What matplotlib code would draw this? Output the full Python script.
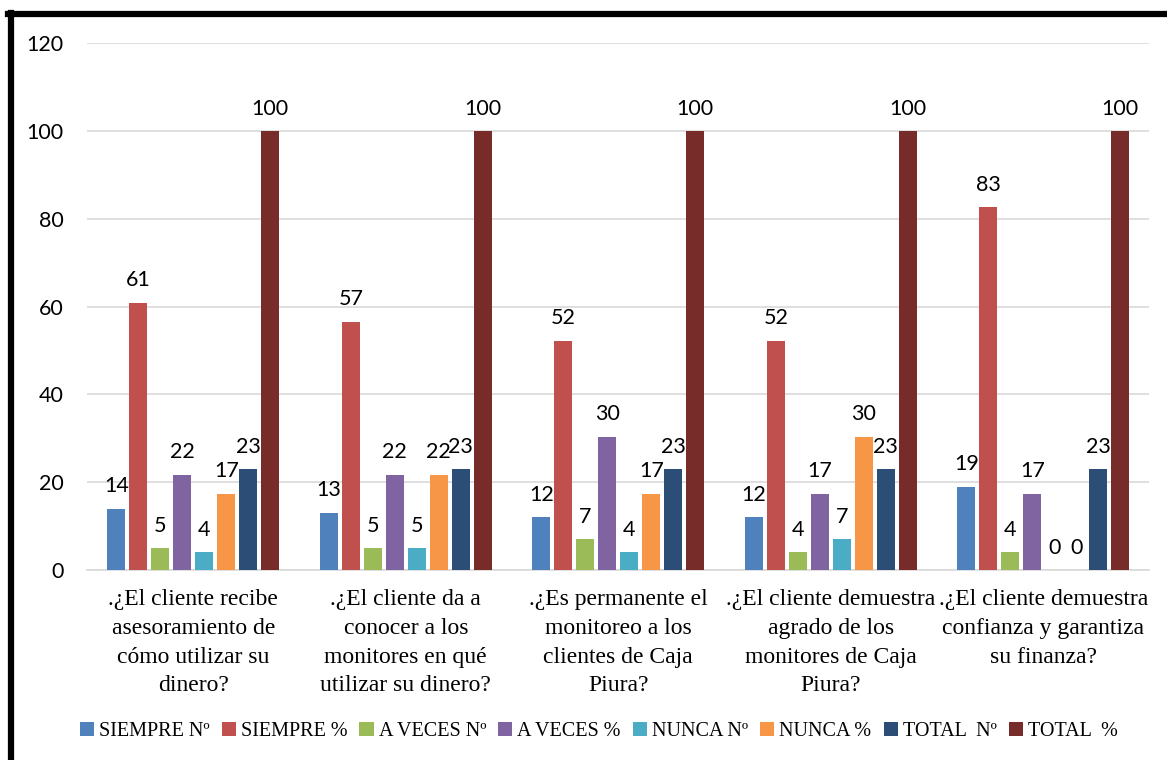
import numpy as np
import matplotlib
matplotlib.use("Agg")
import matplotlib.pyplot as plt
from matplotlib.lines import Line2D

# categories (x axis) and series
categories = [
    ".¿El cliente recibe\nasesoramiento de\ncómo utilizar su\ndinero?",
    ".¿El cliente da a\nconocer a los\nmonitores en qué\nutilizar su dinero?",
    ".¿Es permanente el\nmonitoreo a los\nclientes de Caja\nPiura?",
    ".¿El cliente demuestra\nagrado de los\nmonitores de Caja\nPiura?",
    ".¿El cliente demuestra\nconfianza y garantiza\nsu finanza?",
]
series_names = ["SIEMPRE Nº", "SIEMPRE %", "A VECES Nº", "A VECES %",
                "NUNCA Nº", "NUNCA %", "TOTAL  Nº", "TOTAL  %"]

siempre_n = [14, 13, 12, 12, 19]
siempre_p = [60.9, 56.6, 52.2, 52.2, 82.6]
aveces_n = [5, 5, 7, 4, 4]
aveces_p = [21.7, 21.7, 30.4, 17.4, 17.4]
nunca_n = [4, 5, 4, 7, 0]
nunca_p = [17.4, 21.7, 17.4, 30.4, 0]
total_n = [23, 23, 23, 23, 23]
total_p = [100, 100, 100, 100, 100]

series = [siempre_n, siempre_p, aveces_n, aveces_p, nunca_n, nunca_p, total_n, total_p]
colors = ["#4F81BD", "#C0504D", "#9BBB59", "#8064A2",
          "#4BACC6", "#F79646", "#2C4D75", "#772C2A"]

num_font = "Lato"
txt_font = "Liberation Serif"

fig = plt.figure(figsize=(11.67, 7.6), dpi=100)
ax = fig.add_axes([0.0746, 0.25, 0.9104, 0.693])

x = np.arange(len(categories))
pitch = 0.1035
width = 0.085
for i, (vals, col, name) in enumerate(zip(series, colors, series_names)):
    pos = x + (i - 3.5) * pitch
    bars = ax.bar(pos, vals, width=width, color=col, label=name, zorder=3)
    for b, v in zip(bars, vals):
        ax.annotate(f"{v:.0f}", (b.get_x() + b.get_width() / 2, b.get_height()),
                    xytext=(0, 9), textcoords="offset points", ha="center", va="bottom",
                    fontsize=15.5, family=num_font, color="#000000")

ax.set_xlim(-0.5, len(categories) - 0.5)
ax.set_ylim(0, 120)
ax.set_yticks(range(0, 121, 20))
ax.yaxis.grid(True, color="#D9D9D9", linewidth=1.2, zorder=0)
ax.set_axisbelow(True)
for s in ["top", "right", "left"]:
    ax.spines[s].set_visible(False)
ax.spines["bottom"].set_color("#D9D9D9")
ax.spines["bottom"].set_linewidth(1.2)
ax.tick_params(axis="both", length=0)
ax.tick_params(axis="y", pad=17)
ax.tick_params(axis="x", pad=14)
ax.set_yticklabels([str(t) for t in range(0, 121, 20)], fontsize=15.5, family=num_font)
ax.set_xticks(x)
ax.set_xticklabels(categories, fontsize=17, family=txt_font, linespacing=1.48)

fig.legend(loc="center", bbox_to_anchor=(0.513, 0.038), ncol=8, frameon=False,
           prop={"family": txt_font, "size": 14.5}, handlelength=0.7, handleheight=0.7,
           handletextpad=0.25, columnspacing=0.6)

# black frame pieces (top and left)
fig.add_artist(Line2D([0.007, 1.0], [0.981, 0.981], color="black", linewidth=4.5,
                      transform=fig.transFigure))
fig.add_artist(Line2D([0.009, 0.009], [0.0, 0.983], color="black", linewidth=4.5,
                      transform=fig.transFigure))

fig.savefig("out.png", dpi=100)
